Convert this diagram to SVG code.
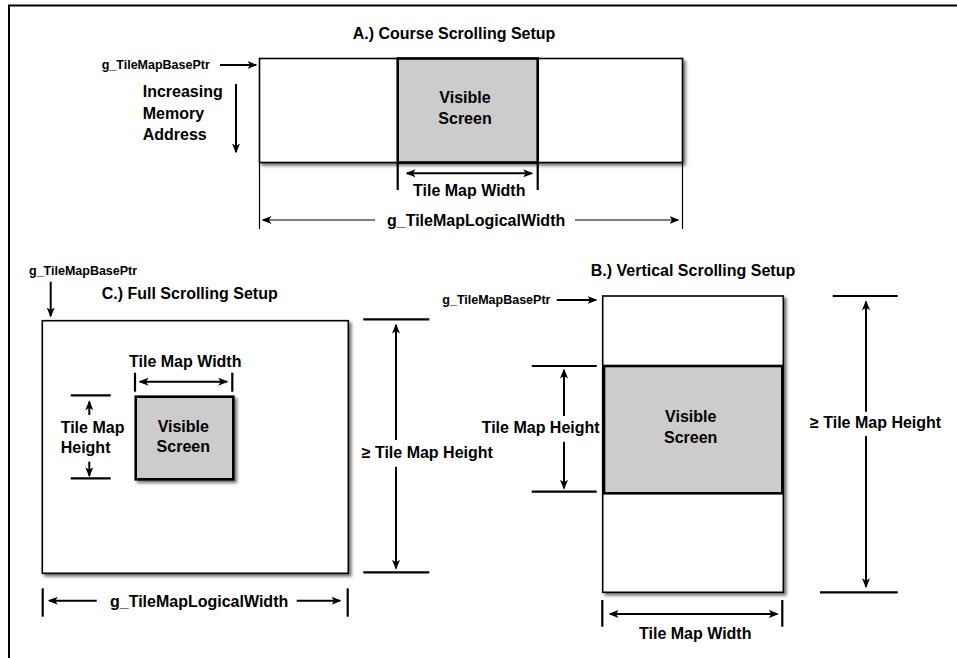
<svg xmlns="http://www.w3.org/2000/svg" width="957" height="658" viewBox="0 0 957 658">
  <defs>
    <style>
      text { font-family: "Liberation Sans", Arial, sans-serif; font-weight: bold; fill: #000; }
      .lbl { font-size: 16px; }
      .ptr { font-size: 12.5px; }
      .mid { text-anchor: middle; }
      .map { fill: #fff; stroke: #000; stroke-width: 1.6; filter: url(#shadow); }
      .vis { fill: #cccccc; stroke: #000; stroke-width: 2.6; }
      .tick { stroke: #000; stroke-width: 2.2; fill: none; }
      .arr { stroke: #000; stroke-width: 2; fill: none; }
      .thin { stroke: #000; stroke-width: 1.2; fill: none; }
      .frame { stroke: #000; stroke-width: 2; fill: none; }
    </style>
    <filter id="shadow" x="-10%" y="-10%" width="125%" height="125%">
      <feDropShadow dx="2.5" dy="2.5" stdDeviation="1.5" flood-color="#000" flood-opacity="0.55"/>
    </filter>
    <marker id="head" viewBox="0 0 10 8" refX="8.5" refY="4" markerWidth="10" markerHeight="8" markerUnits="userSpaceOnUse" orient="auto-start-reverse">
      <path d="M0,0 L10,4 L0,8 L2.5,4 Z" fill="#000"/>
    </marker>
  </defs>

  <rect width="957" height="658" fill="#fff"/>
  <!-- page frame: top and left edges -->
  <path class="frame" d="M9,658 V5.5 H957"/>

  <!-- A.) coarse scrolling -->
  <g id="a-title"><text class="lbl" x="352.7" y="39">A.) Course Scrolling Setup</text></g>
  <g id="a-base"><text class="ptr" x="101.7" y="68.5">g_TileMapBasePtr</text></g>
  <g id="a-dir">
    <text class="lbl" x="142.7" y="97">Increasing</text>
    <text class="lbl" x="142.7" y="118.5">Memory</text>
    <text class="lbl" x="142.7" y="140">Address</text>
  </g>
  <g id="a-map"><rect class="map" x="259.5" y="58.5" width="423" height="104"/></g>
  <g id="a-visible">
    <rect class="vis" x="397.7" y="58.5" width="140" height="104"/>
    <text class="lbl mid" x="465" y="102.5">Visible</text>
    <text class="lbl mid" x="465" y="123.5">Screen</text>
  </g>
  <g id="a-width-label"><text class="lbl" x="413" y="196">Tile Map Width</text></g>
  <g id="a-logical-label"><text class="lbl" x="387" y="226">g_TileMapLogicalWidth</text></g>

  <!-- C.) full scrolling -->
  <g id="c-base"><text class="ptr" x="29" y="275">g_TileMapBasePtr</text></g>
  <g id="c-title"><text class="lbl" x="101.7" y="299">C.) Full Scrolling Setup</text></g>
  <g id="c-map"><rect class="map" x="42.3" y="320.7" width="306" height="252.6"/></g>
  <g id="c-width-label"><text class="lbl" x="129" y="366.7">Tile Map Width</text></g>
  <g id="c-visible">
    <rect class="vis" x="135.7" y="396.7" width="97.6" height="82.6" filter="url(#shadow)"/>
    <text class="lbl mid" x="183.3" y="431.7">Visible</text>
    <text class="lbl mid" x="183.3" y="452.3">Screen</text>
  </g>
  <g id="c-height-label">
    <text class="lbl" x="60.7" y="432.7">Tile Map</text>
    <text class="lbl" x="60.7" y="453.3">Height</text>
  </g>
  <g id="c-total-label"><text class="lbl" x="361.7" y="458.3">≥ Tile Map Height</text></g>
  <g id="c-logical-label"><text class="lbl" x="110" y="606.7">g_TileMapLogicalWidth</text></g>

  <!-- B.) vertical scrolling -->
  <g id="b-title"><text class="lbl" x="590.7" y="276">B.) Vertical Scrolling Setup</text></g>
  <g id="b-base"><text class="ptr" x="442.3" y="303.5">g_TileMapBasePtr</text></g>
  <g id="b-map"><rect class="map" x="602.7" y="296" width="180.6" height="296.3"/></g>
  <g id="b-visible">
    <rect class="vis" x="604" y="366" width="178.3" height="127.3"/>
    <text class="lbl mid" x="690.7" y="421.7">Visible</text>
    <text class="lbl mid" x="690.7" y="442.7">Screen</text>
  </g>
  <g id="b-height-label"><text class="lbl" x="481.7" y="432.7">Tile Map Height</text></g>
  <g id="b-total-label"><text class="lbl" x="810" y="427.7">≥ Tile Map Height</text></g>
  <g id="b-width-label"><text class="lbl" x="639" y="639.3">Tile Map Width</text></g>

  <!-- connectors: pointer arrows, dimension lines and extension ticks -->
  <g id="connectors">
    <!-- A -->
    <line class="arr" x1="220" y1="65" x2="256" y2="65" marker-end="url(#head)"/>
    <line class="arr" x1="236" y1="84" x2="236" y2="152" marker-end="url(#head)"/>
    <line class="thin" x1="259.5" y1="162" x2="259.5" y2="229"/>
    <line class="tick" x1="397.7" y1="162" x2="397.7" y2="190"/>
    <line class="tick" x1="537.7" y1="162" x2="537.7" y2="190"/>
    <line class="thin" x1="682.5" y1="162" x2="682.5" y2="229"/>
    <line class="arr" x1="407" y1="173.3" x2="531.7" y2="173.3" marker-start="url(#head)" marker-end="url(#head)"/>
    <line class="thin" x1="375" y1="220" x2="263" y2="220" marker-end="url(#head)"/>
    <line class="thin" x1="575" y1="220" x2="678" y2="220" marker-end="url(#head)"/>

    <!-- C -->
    <line class="arr" x1="50.7" y1="281.7" x2="50.7" y2="316" marker-end="url(#head)"/>
    <line class="tick" x1="135" y1="372.7" x2="135" y2="391.7"/>
    <line class="tick" x1="232.3" y1="372.7" x2="232.3" y2="391.7"/>
    <line class="arr" x1="140" y1="381.7" x2="226.7" y2="381.7" marker-start="url(#head)" marker-end="url(#head)"/>
    <line class="tick" x1="70.7" y1="395.3" x2="110.7" y2="395.3"/>
    <line class="tick" x1="70.7" y1="478.3" x2="110.7" y2="478.3"/>
    <line class="arr" x1="89.3" y1="415" x2="89.3" y2="401.7" marker-end="url(#head)"/>
    <line class="arr" x1="89.3" y1="461.7" x2="89.3" y2="475.7" marker-end="url(#head)"/>
    <line class="tick" x1="363.3" y1="319.3" x2="429.3" y2="319.3"/>
    <line class="tick" x1="363.3" y1="572.3" x2="429.3" y2="572.3"/>
    <line class="arr" x1="396" y1="440" x2="396" y2="325" marker-end="url(#head)"/>
    <line class="arr" x1="396" y1="466.7" x2="396" y2="568.3" marker-end="url(#head)"/>
    <line class="tick" x1="42.7" y1="588.3" x2="42.7" y2="616.7"/>
    <line class="tick" x1="347.7" y1="588.3" x2="347.7" y2="616.7"/>
    <line class="arr" x1="96.7" y1="600.7" x2="49.3" y2="600.7" marker-end="url(#head)"/>
    <line class="arr" x1="296.7" y1="600.7" x2="340" y2="600.7" marker-end="url(#head)"/>

    <!-- B -->
    <line class="arr" x1="556.7" y1="300" x2="596" y2="300" marker-end="url(#head)"/>
    <line class="tick" x1="531.7" y1="366" x2="596.7" y2="366"/>
    <line class="tick" x1="531.7" y1="491.7" x2="596.7" y2="491.7"/>
    <line class="arr" x1="564" y1="416" x2="564" y2="370" marker-end="url(#head)"/>
    <line class="arr" x1="564" y1="441.7" x2="564" y2="488.3" marker-end="url(#head)"/>
    <line class="tick" x1="832.7" y1="296" x2="897.7" y2="296"/>
    <line class="tick" x1="820" y1="592.3" x2="897.7" y2="592.3"/>
    <line class="arr" x1="866" y1="411.7" x2="866" y2="301.7" marker-end="url(#head)"/>
    <line class="arr" x1="866" y1="436" x2="866" y2="586.7" marker-end="url(#head)"/>
    <line class="tick" x1="602.3" y1="600" x2="602.3" y2="626.7"/>
    <line class="tick" x1="782.3" y1="600" x2="782.3" y2="626.7"/>
    <line class="arr" x1="610" y1="614" x2="777.3" y2="614" marker-start="url(#head)" marker-end="url(#head)"/>
  </g>
</svg>
